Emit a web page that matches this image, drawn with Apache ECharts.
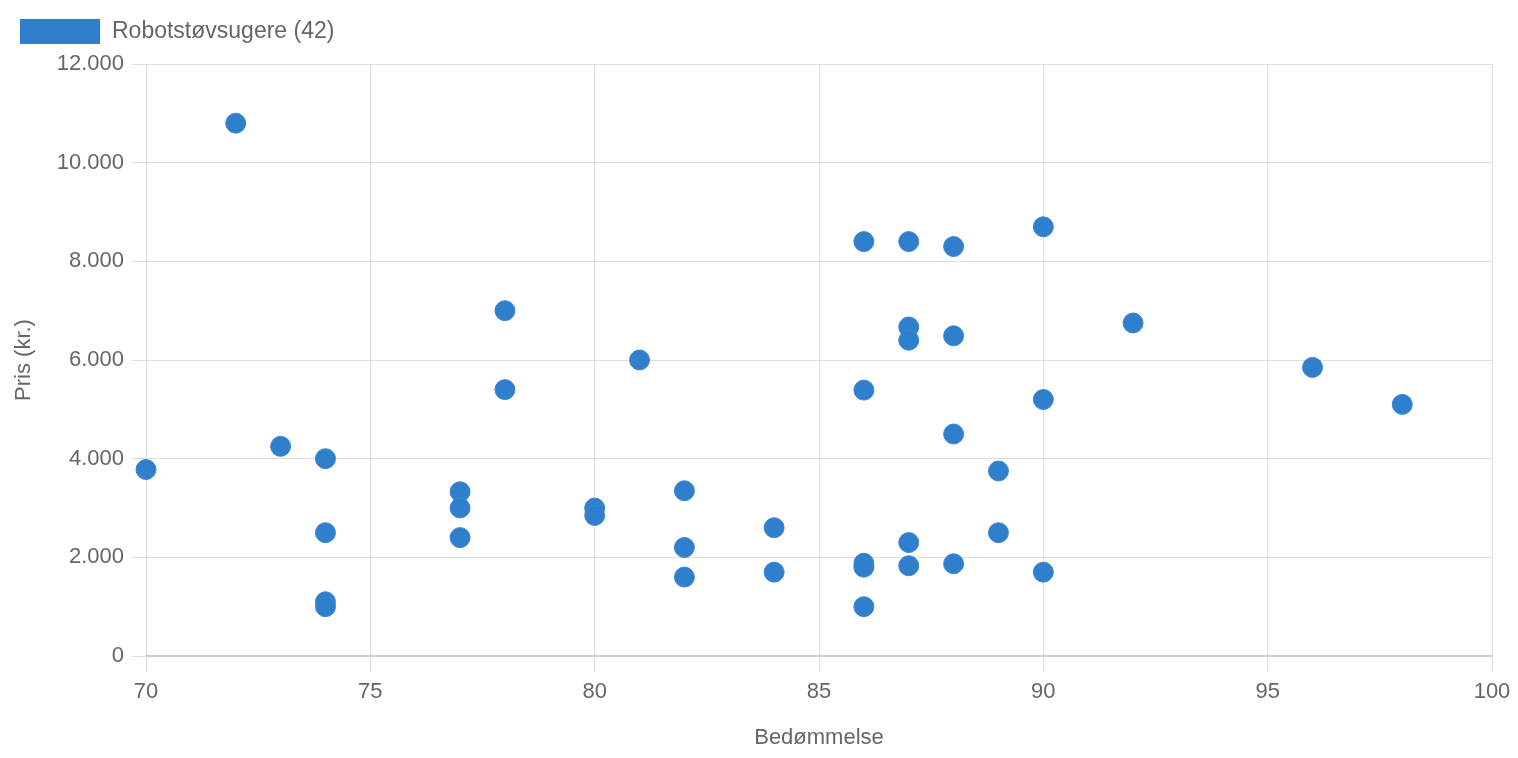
<!DOCTYPE html>
<html>
<head>
<meta charset="utf-8">
<script src="https://cdn.jsdelivr.net/npm/echarts@6/dist/echarts.min.js"></script>
<style>
  html, body { margin: 0; padding: 0; background: #fff; }
  #chart { width: 1518px; height: 758px; }
</style>
</head>
<body>
<div id="chart"></div>
<script>
const seriesName = 'Robotstøvsugere (42)';
const ratings = [72, 70, 73, 74, 74, 74, 74, 77, 77, 77, 78, 78, 80, 80, 81, 82, 82, 82, 84, 84,
  86, 86, 86, 86, 86, 87, 87, 87, 87, 87, 88, 88, 88, 88, 89, 89, 90, 90, 90, 92, 96, 98];
const prices = [10800, 3780, 4250, 4000, 2500, 1100, 1000, 3330, 3000, 2400, 7000, 5400, 3000, 2850, 6000, 3350, 2200, 1600, 2600, 1700,
  8400, 5390, 1880, 1800, 1000, 8400, 6670, 6400, 2300, 1830, 8300, 6490, 4500, 1870, 3750, 2500, 8700, 5200, 1700, 6750, 5850, 5100];

const chart = echarts.init(document.getElementById('chart'));
const font = 'Helvetica, "Liberation Sans", Arial, sans-serif';
const fmt = (v) => String(v).replace(/\B(?=(\d{3})+(?!\d))/g, '.');

const option = {
  animation: false,
  textStyle: { fontFamily: font },
  legend: {
    left: 15,
    top: 14,
    itemWidth: 80,
    itemHeight: 25,
    icon: 'rect',
    itemStyle: { borderWidth: 0 },
    textStyle: { fontSize: 23, color: '#666', fontFamily: font, padding: [2, 0, 0, 7] },
    data: [seriesName]
  },
  grid: { left: 146, right: 26, top: 64, bottom: 102, outerBoundsMode: 'none' },
  xAxis: {
    type: 'value',
    min: 70,
    max: 100,
    interval: 5,
    name: 'Bedømmelse',
    nameLocation: 'middle',
    nameGap: 71,
    nameTextStyle: { fontSize: 22, color: '#666' },
    axisLine: { lineStyle: { color: '#cccccc', width: 2 } },
    axisTick: { show: true, length: 16, lineStyle: { color: '#dddddd' } },
    axisLabel: { fontSize: 22, color: '#666', margin: 25 },
    splitLine: { lineStyle: { color: '#dddddd' } }
  },
  yAxis: {
    type: 'value',
    min: 0,
    max: 12000,
    interval: 2000,
    name: 'Pris (kr.)',
    nameLocation: 'middle',
    nameGap: 111,
    nameRotate: 90,
    nameTextStyle: { fontSize: 22, color: '#666' },
    axisLine: { show: true, lineStyle: { color: '#dddddd' } },
    axisTick: { show: true, length: 14, lineStyle: { color: '#dddddd' } },
    axisLabel: { fontSize: 22, color: '#666', margin: 22, padding: [3, 0, 0, 0], formatter: fmt },
    splitLine: { lineStyle: { color: '#dddddd' } }
  },
  series: [{
    name: seriesName,
    type: 'scatter',
    symbolSize: 20,
    itemStyle: { color: '#2f7fcd', opacity: 1, borderColor: '#3a87d2', borderWidth: 1 },
    data: ratings.map((r, i) => [r, prices[i]])
  }]
};

chart.setOption(option);
</script>
</body>
</html>
